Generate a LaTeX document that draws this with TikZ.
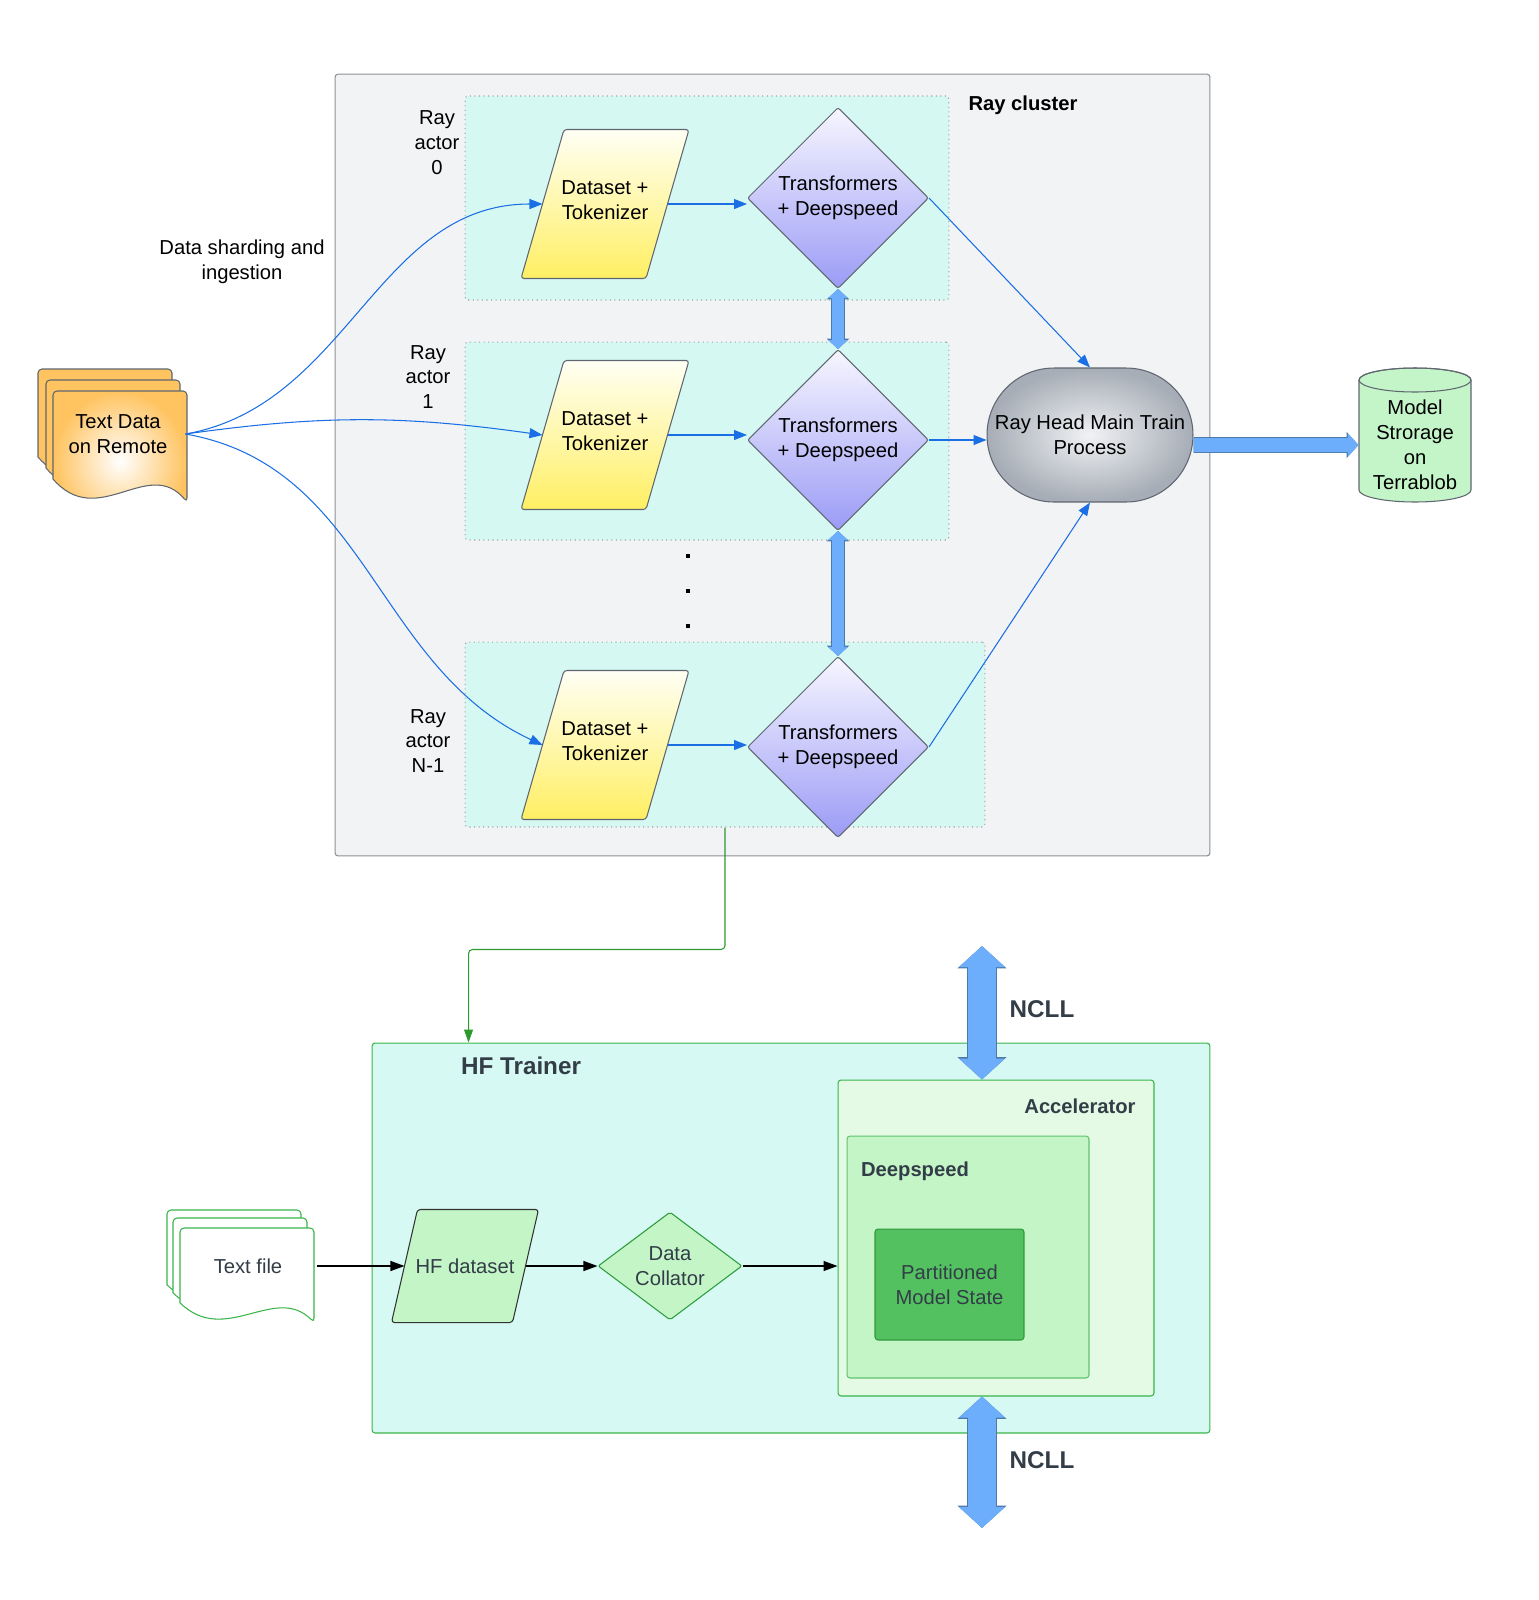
\documentclass[tikz,border=0pt]{standalone}
\usepackage{fontspec}
\setmainfont{Liberation Sans}
\usetikzlibrary{positioning, shapes.geometric, arrows.meta}

\definecolor{raybg}{HTML}{F2F3F5}
\definecolor{rayedge}{HTML}{8C9096}
\definecolor{actorbg}{HTML}{D6F8F2}
\definecolor{flowblue}{HTML}{1B6FE4}
\definecolor{fatblue}{HTML}{6DAEFC}
\definecolor{fatedge}{HTML}{4F79A8}
\definecolor{tokyellow}{HTML}{FFEF63}
\definecolor{tokwhite}{HTML}{FFFFF4}
\definecolor{tfpurple}{HTML}{9B9BF6}
\definecolor{tfwhite}{HTML}{F7F6FF}
\definecolor{headgray}{HTML}{A6ADB6}
\definecolor{headlight}{HTML}{F1F2F4}
\definecolor{docorange}{HTML}{FFC35F}
\definecolor{storegreen}{HTML}{C4F5C8}
\definecolor{hfgreen}{HTML}{39B54A}
\definecolor{hfbg}{HTML}{D7F9F3}
\definecolor{accbg}{HTML}{E4FAE4}
\definecolor{dsbg}{HTML}{C3F5C7}
\definecolor{partbg}{HTML}{53C15F}
\definecolor{partedge}{HTML}{2E9C3A}
\definecolor{darktext}{HTML}{333D48}
\definecolor{linkgreen}{HTML}{2C9A2C}
\definecolor{shapeedge}{HTML}{5F6670}

\newcommand{\basefont}{\fontsize{11.5pt}{14.2pt}\selectfont}
\newcommand{\bigbold}{\fontsize{13.8pt}{16pt}\selectfont\bfseries}
\newcommand{\docpage}[4]{\draw[#4, rounded corners=0.08cm, shift={(#1,#2)}, yscale=#3] (0,-88) -- (0,0) -- (134,0) -- (134,-111) [sharp corners] .. controls (95,-65) and (45,-140) .. (0,-88) -- cycle;}
\newcommand{\slantbox}[6]{%
	\node (#1) [minimum width=#3, minimum height=#4, inner sep=0pt] at (#2) {};
	\draw[#6, rounded corners=0.06cm] ([xshift=#5]#1.north west) -- ([xshift=#5]#1.north east) -- ([xshift=-#5]#1.south east) -- ([xshift=-#5]#1.south west) -- cycle;}

\tikzset{
  fattip/.tip={Triangle[width=0pt 1.6, length=0pt 0.75]},
  box/.style={rounded corners=0.06cm, inner sep=0pt},
  actorbox/.style={box, draw=gray!75, dotted, fill=actorbg},
  tok/.style={draw=shapeedge, top color=tokwhite, bottom color=tokyellow},
  tf/.style={diamond, aspect=1, draw=shapeedge, top color=tfwhite, bottom color=tfpurple, minimum size=3.62cm, inner sep=0pt, align=center, rounded corners=0.04cm},
  flow/.style={draw=flowblue, -{Triangle[length=0.26cm, width=0.2cm]}},
  darkflow/.style={draw=black, -{Triangle[length=0.28cm, width=0.2cm]}},
  greenflow/.style={draw=linkgreen, rounded corners=0.08cm, -{Triangle[length=0.26cm, width=0.18cm]}},
  fatboth/.style={draw=fatblue, line width=#1, fattip-fattip, preaction={draw=fatedge, line width=#1+0.035cm, fattip-fattip}},
  fatone/.style={draw=fatblue, line width=#1, -fattip, preaction={draw=fatedge, line width=#1+0.035cm, -fattip}}
}

\begin{document}
\begin{tikzpicture}[x=0.02cm, y=0.02cm, line width=0.6pt, every node/.style={font=\basefont}]
	\useasboundingbox (0,0) rectangle (1539,-1600);

	\node (ray) [box, draw=rayedge, fill=raybg, minimum width=17.5cm, minimum height=15.64cm] at (772.5,-465) {};
	\node (raylabel) [font=\basefont\bfseries] at (1023,-105) {Ray cluster};

	\node (act0) [actorbox, minimum width=9.68cm, minimum height=4.08cm] at (707,-198) {};
	\node (act1) [actorbox, minimum width=9.68cm, minimum height=3.96cm] at (707,-441) {};
	\node (actN) [actorbox, minimum width=10.4cm, minimum height=3.7cm] at (725,-734.5) {};
	\node (lab0) [align=center] at (437,-143) {Ray\\actor\\0};
	\node (lab1) [align=center] at (428,-377) {Ray\\actor\\1};
	\node (labN) [align=center] at (428,-741) {Ray\\actor\\N-1};

	\slantbox{ds0}{605,-204}{2.48cm}{2.96cm}{0.43cm}{tok}
	\slantbox{ds1}{605,-435}{2.48cm}{2.96cm}{0.43cm}{tok}
	\slantbox{dsN}{605,-745}{2.48cm}{2.96cm}{0.43cm}{tok}
	\node (ds0txt) [align=center] at ([yshift=0.08cm]ds0) {Dataset +\\Tokenizer};
	\node (ds1txt) [align=center] at ([yshift=0.08cm]ds1) {Dataset +\\Tokenizer};
	\node (dsNtxt) [align=center] at ([yshift=0.08cm]dsN) {Dataset +\\Tokenizer};

	\node (tf0) [tf] at (838,-198) {Transformers\\+ Deepspeed};
	\node (tf1) [tf, below=1.2cm of tf0] {Transformers\\+ Deepspeed};
	\node (tfN) [tf, below=2.5cm of tf1] {Transformers\\+ Deepspeed};

	\foreach \y in {556,591,626}
		\fill (686,-\y+2) rectangle ++(4,-4);

	\node (head) [draw=shapeedge, rounded corners=1.34cm, minimum width=4.12cm, minimum height=2.68cm, inner sep=0pt, inner color=headlight, outer color=headgray, align=center] at (1090,-435) {Ray Head Main Train\\Process};

	\draw[draw=shapeedge, fill=storegreen] (1359,-380) -- (1359,-490) arc[start angle=180, end angle=360, x radius=56, y radius=12] -- (1471,-380) arc[start angle=0, end angle=180, x radius=56, y radius=12] -- cycle;
	\draw[shapeedge] (1415,-380) ellipse [x radius=56, y radius=12];
	\node (store) [minimum width=2.24cm, align=center] at (1415,-445) {Model\\Strorage\\on\\Terrablob};

	\docpage{38}{-369}{1}{draw=shapeedge, fill=docorange}
	\docpage{46}{-380}{1}{draw=shapeedge, fill=docorange}
	\docpage{53}{-391}{1}{draw=shapeedge, inner color=white, outer color=docorange}
	\node (remote) [minimum width=2.68cm, align=center] at (118,-434) {Text Data\\on Remote};
	\node (shard) [align=center] at (242,-262) {Data sharding and\\ingestion};

	\draw[flow] (remote.east) to[out=10, in=180] (ds0.west);
	\draw[flow] (remote.east) to[out=8, in=172] (ds1.west);
	\draw[flow] (remote.east) to[out=-10, in=155] (dsN.west);
	\draw[flow] (ds0.east) -- (ds0.east -| tf0.west);
	\draw[flow] (ds1.east) -- (ds1.east -| tf1.west);
	\draw[flow] (dsN.east) -- (dsN.east -| tfN.west);
	\draw[flow] (tf0.east) -- (head.north);
	\draw[flow] (tf1.east) -- (tf1.east -| head.west);
	\draw[flow] (tfN.east) -- (head.south);
	\draw[fatboth=0.24cm] (tf0.south) -- (tf1.north);
	\draw[fatboth=0.24cm] (tf1.south) -- (tfN.north);
	\draw[fatone=0.28cm] ([yshift=-0.2cm]head.east) -- (store.west);

	\node (trainer) [box, draw=hfgreen, fill=hfbg, minimum width=16.76cm, minimum height=7.8cm] at (791,-1238) {};
	\node (trainerlabel) [font=\bigbold, text=darktext] at (521,-1066) {HF Trainer};
	\node (accel) [box, draw=hfgreen, fill=accbg, minimum width=6.32cm, minimum height=6.32cm] at (996,-1238) {};
	\node (accellabel) [font=\basefont\bfseries, text=darktext] at (1080,-1106) {Accelerator};
	\node (deep) [box, draw=hfgreen!80, fill=dsbg, minimum width=4.84cm, minimum height=4.84cm] at (968,-1257) {};
	\node (deeplabel) [font=\basefont\bfseries, text=darktext] at (915,-1171) {Deepspeed};
	\node (part) [box, draw=partedge, fill=partbg, minimum width=2.98cm, minimum height=2.22cm, align=center, text=darktext] at (949.5,-1284.5) {Partitioned\\Model State};

	\docpage{167}{-1210}{0.85}{draw=hfgreen, fill=white}
	\docpage{173}{-1218}{0.85}{draw=hfgreen, fill=white}
	\docpage{180}{-1228}{0.85}{draw=hfgreen, fill=white}
	\node (tfile) [minimum width=2.74cm, text=darktext] at (248,-1266) {Text file};

	\slantbox{hfds}{465,-1266}{2.4cm}{2.24cm}{0.26cm}{draw=black!80, fill=dsbg}
	\node (hfdstxt) [text=darktext] at (hfds) {HF dataset};
	\node (coll) [diamond, aspect=1.333, minimum width=2.88cm, minimum height=2.16cm, inner sep=0pt, draw=partedge, fill=dsbg, align=center, text=darktext, rounded corners=0.04cm] at (670,-1266) {Data\\Collator};

	\draw[darkflow] (tfile.east) -- (hfds.west);
	\draw[darkflow] (hfds.east) -- (coll.west);
	\draw[darkflow] (coll.east) -- (coll.east -| accel.west);
	\draw[greenflow] (actN.south) -- ++(0,-122) -| ([xshift=1.94cm]trainer.north west);

	\coordinate (ncl1) at (982,-946);
	\coordinate (ncl2) at (982,-1528);
	\draw[fatboth=0.56cm] (ncl1) -- (ncl1 |- accel.north);
	\draw[fatboth=0.56cm] (ncl2 |- accel.south) -- (ncl2);
	\node (ncltop) [font=\bigbold, text=darktext] at (1042,-1009) {NCLL};
	\node (nclbot) [font=\bigbold, text=darktext] at (1042,-1460) {NCLL};
\end{tikzpicture}
\end{document}
